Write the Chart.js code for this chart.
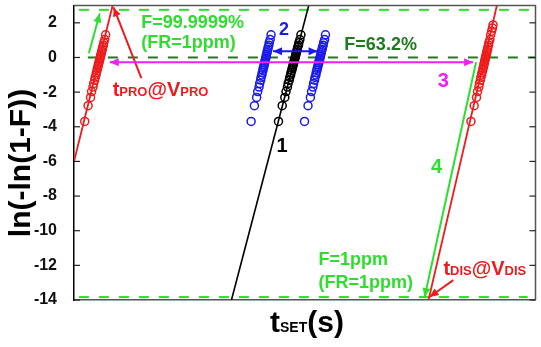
<!DOCTYPE html>
<html><head><meta charset="utf-8">
<script src="https://cdn.jsdelivr.net/npm/chart.js@4.4.1/dist/chart.umd.min.js"></script>
<style>html,body{margin:0;padding:0;background:#fff;}#wrap{width:541px;height:347px;}</style>
</head><body><div id="wrap"><canvas id="c" width="541" height="347"></canvas></div>
<script>
// ---- data (x: log-time in arbitrary decades, y: ln(-ln(1-F))) ----
const rankY = [-3.69,-2.785,-2.304,-1.969,-1.71,-1.496,-1.313,-1.151,-1.006,-0.873,-0.749,-0.633,-0.523,-0.418,-0.316,-0.217,-0.12,-0.024,0.072,0.168,0.266,0.368,0.474,0.587,0.712,0.856,1.035,1.309];
const proX = [0.232,0.305,0.358,0.381,0.412,0.426,0.449,0.458,0.477,0.485,0.501,0.507,0.522,0.527,0.541,0.546,0.559,0.564,0.577,0.581,0.596,0.600,0.615,0.620,0.637,0.645,0.667,0.686];
const setX = [4.431,4.512,4.568,4.594,4.625,4.640,4.664,4.675,4.694,4.702,4.720,4.726,4.742,4.747,4.762,4.767,4.782,4.786,4.801,4.805,4.820,4.825,4.840,4.846,4.864,4.873,4.895,4.917];
const setLowX = [3.838,3.909,3.958,3.981,4.010,4.023,4.045,4.053,4.072,4.078,4.095,4.099,4.115,4.118,4.133,4.136,4.150,4.153,4.167,4.170,4.184,4.187,4.202,4.206,4.223,4.230,4.252,4.270];
const setHighX = [4.995,5.071,5.122,5.147,5.177,5.191,5.213,5.222,5.242,5.248,5.265,5.270,5.286,5.290,5.305,5.309,5.324,5.326,5.341,5.344,5.359,5.363,5.378,5.383,5.400,5.408,5.430,5.449];
const disY = [-3.69,-2.785,-2.304,-1.969,-1.71,-1.496,-1.313,-1.151,-1.006,-0.873,-0.749,-0.633,-0.523,-0.418,-0.316,-0.217,-0.12,-0.024,0.072,0.168,0.266,0.368,0.474,0.587,0.712,0.856,1.035,1.309,1.52,1.70,1.88];
const disX = [8.601,8.672,8.721,8.744,8.772,8.785,8.807,8.815,8.834,8.839,8.856,8.860,8.876,8.879,8.894,8.896,8.911,8.913,8.928,8.930,8.945,8.947,8.963,8.967,8.983,8.990,9.012,9.029,9.049,9.068,9.080];
// fitted lines
const proFitX = [0, 0.837], proFitY = [-6, 3];
const setFitX = [3.412, 5.086], setFitY = [-14, 3];
const disFitX = [7.682, 9.163], disFitY = [-14, 3];
// reference levels
const level999 = 2.75, level632 = 0, level1ppm = -13.83;
const levelTopX = [0.107, 10], levelMidX = [0.30, 10], levelBotX = [0.107, 9.83];
const yTickValues = [-14,-12,-10,-8,-6,-4,-2,0,2];
// annotation arrows [x1,y1,x2,y2] in data units, head at end (double = both)
const arrowGreenUp = [0.322, 0.245, 0.558, 2.54];
const arrowPro = [1.459, -1.19, 0.858, 2.887];
const arrow3 = [0.773, -0.272, 8.648, -0.272];
const arrow2 = [4.313, 0.36, 5.279, 0.36];
const arrow4 = [8.712, -0.272, 7.597, -13.83];
const arrowDis = [8.219, -12.85, 7.704, -13.83];

const pts = (xs, ys) => xs.map((x, i) => ({x, y: ys[i]}));
const RED = '#ee1c1c', BLUE = '#1a1aee', GREEN = '#2ede2e', DGREEN = '#1e7b1e', MAG = '#ee22ee';
const FONT = '"Liberation Sans", Arial, sans-serif';

function markerSet(data, color) {
  return {type: 'scatter', data, showLine: false, pointStyle: 'circle', pointRadius: 4,
    pointBorderWidth: 1.5, borderColor: color, backgroundColor: 'rgba(0,0,0,0)', pointBackgroundColor: 'rgba(0,0,0,0)'};
}
function lineSet(data, color, width, dash) {
  return {type: 'line', data, showLine: true, pointRadius: 0, borderColor: color, borderWidth: width,
    borderDash: dash || [], fill: false, tension: 0};
}

const datasets = [
  markerSet(pts(proX, rankY), RED),
  markerSet(pts(setLowX, rankY), BLUE),
  markerSet(pts(setHighX, rankY), BLUE),
  markerSet(pts(setX, rankY), '#000'),
  markerSet(pts(disX, disY), RED),
  lineSet(pts(proFitX, proFitY), RED, 1.8),
  lineSet(pts(setFitX, setFitY), '#000', 1.6),
  lineSet(pts(disFitX, disFitY), RED, 1.8),
  lineSet(pts(levelTopX, [level999, level999]), GREEN, 2, [10, 10]),
  lineSet(pts(levelMidX, [level632, level632]), DGREEN, 2, [10, 10]),
  lineSet(pts(levelBotX, [level1ppm, level1ppm]), GREEN, 2, [10, 10]),
];

function arrowHead(ctx, x1, y1, x2, y2, color) {
  const ang = Math.atan2(y2 - y1, x2 - x1), L = 9, W = 4;
  ctx.fillStyle = color;
  ctx.beginPath();
  ctx.moveTo(x2, y2);
  ctx.lineTo(x2 - L * Math.cos(ang) + W * Math.sin(ang), y2 - L * Math.sin(ang) - W * Math.cos(ang));
  ctx.lineTo(x2 - L * Math.cos(ang) - W * Math.sin(ang), y2 - L * Math.sin(ang) + W * Math.cos(ang));
  ctx.closePath(); ctx.fill();
}
function drawArrow(ctx, X, Y, a, color, width, both) {
  const x1 = X(a[0]), y1 = Y(a[1]), x2 = X(a[2]), y2 = Y(a[3]);
  ctx.strokeStyle = color; ctx.lineWidth = width;
  ctx.beginPath(); ctx.moveTo(x1, y1); ctx.lineTo(x2, y2); ctx.stroke();
  arrowHead(ctx, x1, y1, x2, y2, color);
  if (both) arrowHead(ctx, x2, y2, x1, y1, color);
}
function drawMixed(ctx, parts, x, y, color) {
  ctx.fillStyle = color; ctx.textAlign = 'left'; ctx.textBaseline = 'alphabetic';
  let cx = x;
  parts.forEach(([t, s]) => { ctx.font = 'bold ' + s + 'px ' + FONT; ctx.fillText(t, cx, y); cx += ctx.measureText(t).width; });
}

const overlay = {
  id: 'overlay',
  afterDatasetsDraw(chart) {
    const {ctx, chartArea: a, scales} = chart;
    const X = v => scales.x.getPixelForValue(v), Y = v => scales.y.getPixelForValue(v);
    ctx.save();
    // frame top/right
    ctx.strokeStyle = '#555'; ctx.lineWidth = 1.5;
    ctx.beginPath(); ctx.moveTo(a.left, a.top); ctx.lineTo(a.right, a.top); ctx.lineTo(a.right, a.bottom); ctx.stroke();
    // inward ticks
    ctx.strokeStyle = '#222'; ctx.lineWidth = 1.2;
    yTickValues.forEach(v => {
      const py = Y(v);
      ctx.beginPath(); ctx.moveTo(a.left, py); ctx.lineTo(a.left + 6, py); ctx.stroke();
      ctx.beginPath(); ctx.moveTo(a.right - 6, py); ctx.lineTo(a.right, py); ctx.stroke();
    });
    // arrows
    drawArrow(ctx, X, Y, arrowGreenUp, GREEN, 2, false);
    drawArrow(ctx, X, Y, arrowPro, RED, 2, false);
    drawArrow(ctx, X, Y, arrow3, MAG, 2, true);
    drawArrow(ctx, X, Y, arrow2, BLUE, 2, true);
    drawArrow(ctx, X, Y, arrow4, GREEN, 2, false);
    drawArrow(ctx, X, Y, arrowDis, RED, 2, false);
    // texts
    ctx.textBaseline = 'middle'; ctx.textAlign = 'left';
    ctx.font = 'bold 18px ' + FONT; ctx.fillStyle = GREEN;
    ctx.fillText('F=99.9999%', X(1.459), Y(1.968));
    ctx.fillText('(FR=1ppm)', X(1.459), Y(0.819));
    ctx.fillText('F=1ppm', X(5.30), Y(-11.70));
    ctx.fillText('(FR=1ppm)', X(5.30), Y(-13.02));
    ctx.fillStyle = DGREEN;
    ctx.fillText('F=63.2%', X(5.858), Y(0.704));
    ctx.textAlign = 'center';
    ctx.font = 'bold 18px ' + FONT; ctx.fillStyle = BLUE;
    ctx.fillText('2', X(4.549), Y(1.566));
    ctx.font = 'bold 20px ' + FONT; ctx.fillStyle = '#000';
    ctx.fillText('1', X(4.506), Y(-5.155));
    ctx.fillStyle = MAG; ctx.fillText('3', X(8.004), Y(-1.364));
    ctx.fillStyle = GREEN; ctx.fillText('4', X(7.854), Y(-6.361));
    drawMixed(ctx, [['t', 20], ['PRO', 13], ['@V', 20], ['PRO', 13]], X(0.837), Y(-2.225), RED);
    drawMixed(ctx, [['t', 20], ['DIS', 13], ['@V', 20], ['DIS', 13]], X(8.004), Y(-12.564), RED);
    ctx.restore();
  },
  afterDraw(chart) {
    const {ctx} = chart;
    ctx.save();
    // y title
    ctx.translate(22, 163); ctx.rotate(-Math.PI / 2);
    ctx.font = 'bold 30px ' + FONT; ctx.fillStyle = '#000'; ctx.textAlign = 'center'; ctx.textBaseline = 'middle';
    ctx.fillText('ln(-ln(1-F))', 0, 0);
    ctx.restore();
    ctx.save();
    drawMixed(ctx, [['t', 30], ['SET', 14], ['(s)', 30]], 270, 332, '#000');
    ctx.restore();
  }
};

const bgPlugin = {id: 'bg', beforeDraw(chart) { const c = chart.ctx; c.save(); c.fillStyle = '#fff'; c.fillRect(0, 0, chart.width, chart.height); c.restore(); }};

new Chart(document.getElementById('c'), {
  type: 'scatter',
  data: {datasets},
  options: {
    responsive: false, animation: false, devicePixelRatio: 1,
    layout: {padding: {left: 0, top: 4, right: 1, bottom: 0}},
    plugins: {legend: {display: false}, tooltip: {enabled: false}},
    scales: {
      x: {type: 'linear', min: 0, max: 10,
        grid: {display: false}, ticks: {display: false},
        border: {display: true, color: '#555', width: 1.5},
        afterFit: s => { s.height = 47; s.paddingLeft = 0; s.paddingRight = 0; }},
      y: {type: 'linear', min: -14, max: 3,
        grid: {display: false},
        border: {display: true, color: '#000', width: 1.5},
        afterBuildTicks: s => { s.ticks = yTickValues.map(v => ({value: v})); },
        ticks: {padding: 9, color: '#111', font: {family: FONT, size: 16, weight: 'bold'}},
        afterFit: s => { s.width = 74; s.paddingTop = 0; s.paddingBottom = 0; }}
    }
  },
  plugins: [bgPlugin, overlay]
});
</script></body></html>
